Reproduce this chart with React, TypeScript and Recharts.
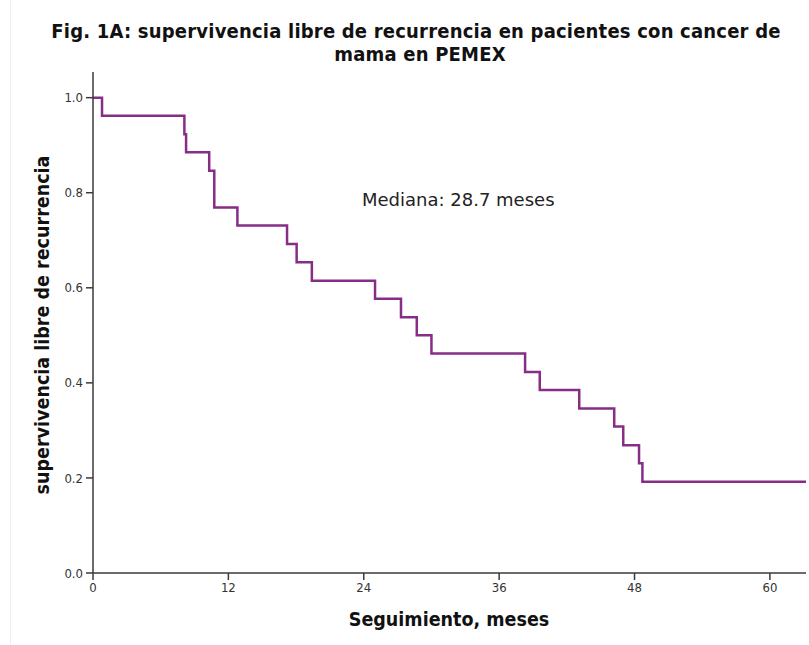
import { LineChart, Line, XAxis, YAxis } from 'recharts';

// Kaplan-Meier steps (n ~ 26)
const months = [0, 0.8, 8.1, 8.25, 10.3, 10.75, 12.8, 17.2, 18.05, 19.4, 25.0, 27.3, 28.7, 30.0, 38.3, 39.6, 43.1, 46.2, 47.0, 48.4, 48.7, 63.2];
const survival = [1, 0.962, 0.923, 0.885, 0.846, 0.769, 0.731, 0.692, 0.654, 0.615, 0.577, 0.538, 0.5, 0.462, 0.423, 0.385, 0.346, 0.308, 0.269, 0.231, 0.192, 0.192];

const xTicks = [0, 12, 24, 36, 48, 60];
const yTicks = [0, 0.2, 0.4, 0.6, 0.8, 1.0];

const data = months.map((m, i) => ({ m, s: survival[i] }));

const FONT = '"DejaVu Sans Condensed", "DejaVu Sans", sans-serif';
const PURPLE = '#862d86';
const AXIS = '#3a3a3a';
const X_MAX = 63.2;
const Y_MAX = 1.054;

export default function App() {
  const tickStyle = { fontSize: 13, fill: '#333', fontFamily: FONT };
  const axisLine = { stroke: AXIS, strokeWidth: 1.5 };
  const titleLine = { position: 'absolute' as const, left: 0, width: 832, textAlign: 'center' as const, fontWeight: 'bold', fontSize: 20, letterSpacing: 0.2, lineHeight: '20px', whiteSpace: 'nowrap' as const };
  return (
    <div style={{ position: 'absolute', left: 0, top: 0, width: 809, height: 645, background: '#fff', fontFamily: FONT, color: '#111' }}>
      <div style={{ position: 'absolute', left: 10, top: 0, width: 1, height: 645, background: '#eeeeee' }} />
      <div style={{ ...titleLine, top: 21 }}>Fig. 1A: supervivencia libre de recurrencia en pacientes con cancer de</div>
      <div style={{ ...titleLine, top: 44, width: 840 }}>mama en PEMEX</div>
      <div style={{ position: 'absolute', left: 42, top: 325, transform: 'translate(-50%, -50%) rotate(-90deg)', whiteSpace: 'nowrap', fontWeight: 'bold', fontSize: 19.5 }}>
        supervivencia libre de recurrencia
      </div>
      <div style={{ position: 'absolute', left: 449, top: 619, transform: 'translate(-50%, -50%)', whiteSpace: 'nowrap', fontWeight: 'bold', fontSize: 19.5 }}>
        Seguimiento, meses
      </div>
      <div style={{ position: 'absolute', left: 362, top: 199, transform: 'translateY(-50%)', whiteSpace: 'nowrap', fontFamily: '"DejaVu Sans", sans-serif', fontSize: 18, color: '#222' }}>
        Mediana: 28.7 meses
      </div>
      <div style={{ position: 'absolute', left: 0, top: 0 }}>
        <LineChart width={809} height={645} data={data} margin={{ top: 72, right: 3, bottom: 42, left: 53 }}>
          <XAxis
            dataKey="m"
            type="number"
            domain={[0, X_MAX]}
            ticks={xTicks}
            height={30}
            tick={tickStyle}
            tickSize={7}
            tickMargin={3}
            axisLine={axisLine}
            tickLine={{ stroke: AXIS, strokeWidth: 1.5 }}
          />
          <XAxis xAxisId="top" orientation="top" type="number" domain={[0, X_MAX]} height={0} tick={false} tickLine={false} axisLine={axisLine} />
          <YAxis
            type="number"
            domain={[0, Y_MAX]}
            ticks={yTicks}
            width={40}
            tick={tickStyle}
            tickSize={7}
            tickMargin={3}
            tickFormatter={(v: number) => v.toFixed(1)}
            axisLine={axisLine}
            tickLine={{ stroke: AXIS, strokeWidth: 1.5 }}
          />
          <YAxis yAxisId="right" orientation="right" type="number" domain={[0, Y_MAX]} width={0} tick={false} tickLine={false} axisLine={axisLine} />
          <Line type="stepAfter" dataKey="s" stroke={PURPLE} strokeWidth={2.5} dot={false} isAnimationActive={false} />
        </LineChart>
      </div>
    </div>
  );
}
